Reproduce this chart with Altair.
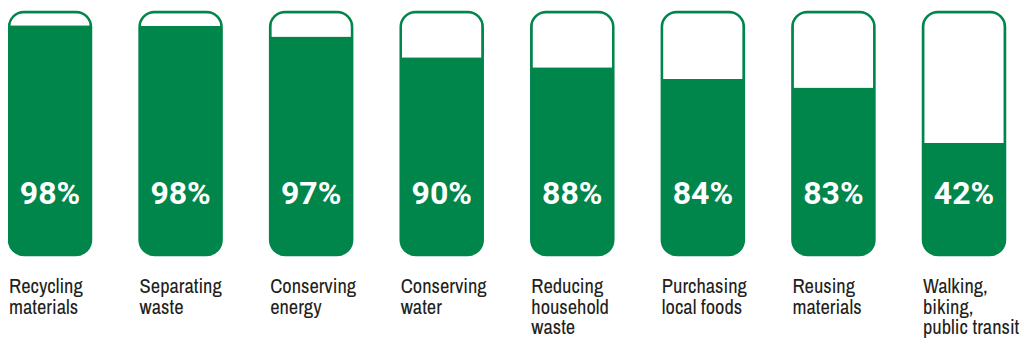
import altair as alt
import pandas as pd

GREEN = "#00854A"
TEXT = "#231F20"

items = ["Recycling materials", "Separating waste", "Conserving energy", "Conserving water",
         "Reducing household waste", "Purchasing local foods", "Reusing materials",
         "Walking, biking, public transit"]
label_lines = [["Recycling", "materials"], ["Separating", "waste"], ["Conserving", "energy"],
               ["Conserving", "water"], ["Reducing", "household", "waste"],
               ["Purchasing", "local foods"], ["Reusing", "materials"],
               ["Walking,", "biking,", "public transit"]]
shares = [98, 98, 97, 90, 88, 84, 83, 42]
# fill height of each container as drawn in the picture (percent of container)
fill_levels = [94.5, 94.3, 89.9, 81.4, 77.3, 72.4, 68.9, 46.2]
capacity = [100] * 8

df = pd.DataFrame({
    "item": items,
    "lines": label_lines,
    "share": shares,
    "pct_label": [f"{s}%" for s in shares],
    "fill_level": fill_levels,
    "capacity": capacity,
})

xenc = alt.X("item:N", sort=items, axis=None,
             scale=alt.Scale(paddingInner=0.372, paddingOuter=0))
yscale = alt.Scale(domain=[0, 100])

base = alt.Chart(df)

fill = base.mark_bar(color=GREEN, cornerRadiusBottomLeft=15, cornerRadiusBottomRight=15).encode(
    x=xenc,
    y=alt.Y("fill_level:Q", scale=yscale, axis=None),
)

outline = base.mark_bar(fill="transparent", stroke=GREEN, strokeWidth=2.5, cornerRadius=15).encode(
    x=xenc,
    y=alt.Y("capacity:Q", scale=yscale, axis=None),
)

pct = base.mark_text(color="white", font="Roboto", fontWeight="bold", fontSize=32,
                     baseline="alphabetic", align="center", dy=-51).encode(
    x=xenc,
    y=alt.datum(0),
    text="pct_label:N",
)

labels = base.mark_text(color=TEXT, font="Archivo Narrow",
                        fontSize=20.5, lineHeight=20.5, align="left", baseline="alphabetic", dy=38).encode(
    x=alt.X("item:N", sort=items, axis=None, bandPosition=0,
            scale=alt.Scale(paddingInner=0.372, paddingOuter=0)),
    y=alt.datum(0),
    text="lines",
)

chart = alt.layer(fill, outline, pct, labels).properties(
    width=996,
    height=243,
    padding={"left": 1, "top": 4, "right": 16, "bottom": 86},
    autosize="none",
).configure_view(stroke=None)

chart.save("out.html", embed_options={"renderer": "svg", "actions": False})
